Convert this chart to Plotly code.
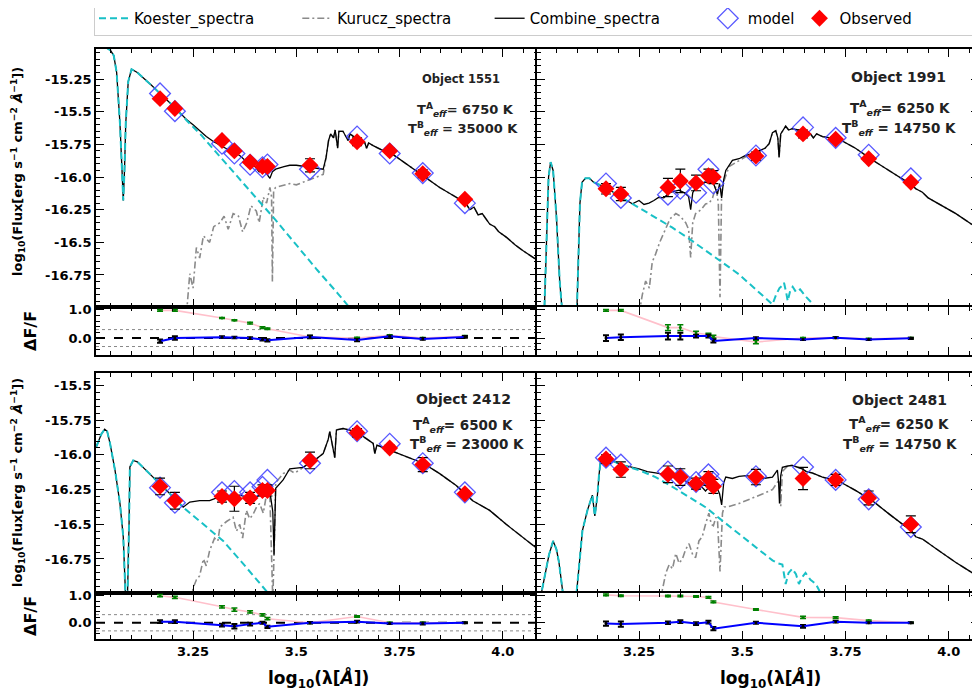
import plotly.graph_objects as go

FONT = "DejaVu Sans"
OFF = 8  # the page body margin shifts the figure by this many pixels
W, H = 980 - OFF, 692 - OFF

# ---------------- data ----------------
filter_x = [3.17, 3.206, 3.32, 3.35, 3.388, 3.418, 3.43, 3.533, 3.647, 3.726, 3.806, 3.908]

x_tick_vals = [3.0, 3.25, 3.5, 3.75, 4.0]
x_tick_text = ["3.0", "3.25", "3.5", "3.75", "4.0"]
y_top_vals = [-16.75, -16.5, -16.25, -16.0, -15.75, -15.5, -15.25]
y_top_text = ["-16.75", "-16.5", "-16.25", "-16.0", "-15.75", "-15.5", "-15.25"]
y_bot_vals = [-16.75, -16.5, -16.25, -16.0, -15.75, -15.5]
y_bot_text = ["-16.75", "-16.5", "-16.25", "-16.0", "-15.75", "-15.5"]
r_tick_vals = [0.0, 1.0]
r_tick_text = ["0.0", "1.0"]

# Object 1551
obs_1551 = [-15.40, -15.475, -15.72, -15.80, -15.886, -15.92, -15.92, -15.91, -15.73, -15.80, -15.975, -16.17]
err_1551 = [0.02, 0.02, 0.02, 0.02, 0.02, 0.02, 0.02, 0.05, 0.03, 0.02, 0.03, 0.02]
mod_1551 = [-15.36, -15.496, -15.745, -15.82, -15.906, -15.925, -15.904, -15.94, -15.69, -15.82, -15.97, -16.20]
kx_1551 = [3.015, 3.035, 3.05, 3.058, 3.065, 3.073, 3.078, 3.081, 3.084, 3.087, 3.093, 3.101, 3.115, 3.13, 3.15,
           3.17, 3.2, 3.234, 3.27, 3.3, 3.35, 3.4, 3.45, 3.5, 3.55, 3.6, 3.65]
ky_1551 = [-14.95, -15.0, -15.03, -15.07, -15.2, -15.59, -15.95, -16.18, -15.95, -15.59, -15.27, -15.175, -15.2,
           -15.24, -15.30, -15.36, -15.45, -15.565, -15.68, -15.79, -15.97, -16.15, -16.33, -16.52, -16.71, -16.89, -17.08]
ccut_1551 = 3.2
cx_1551 = [3.234, 3.25, 3.282, 3.3, 3.323, 3.34, 3.363, 3.375, 3.387, 3.40, 3.41, 3.42, 3.43, 3.436, 3.442, 3.45,
           3.47, 3.484, 3.5, 3.524, 3.545, 3.565, 3.572, 3.578, 3.583, 3.59, 3.594, 3.6, 3.603, 3.613, 3.625, 3.63,
           3.645, 3.665, 3.67, 3.675, 3.686, 3.705, 3.726, 3.766, 3.807, 3.847, 3.887, 3.91, 3.92, 3.93, 3.94, 3.95,
           3.968, 3.98, 3.99, 4.008, 4.03, 4.049, 4.085]
cy_1551 = [-15.56, -15.60, -15.69, -15.73, -15.77, -15.80, -15.835, -15.87, -15.90, -15.92, -15.96, -15.94, -15.99,
           -16.01, -15.96, -15.94, -15.92, -15.91, -15.91, -15.92, -15.93, -15.94, -15.85, -15.72, -15.67, -15.70,
           -15.64, -15.78, -15.65, -15.65, -15.72, -15.67, -15.706, -15.73, -15.78, -15.74, -15.76, -15.79, -15.81,
           -15.90, -15.99, -16.08, -16.155, -16.2, -16.25, -16.23, -16.29, -16.28, -16.36, -16.38, -16.42, -16.46,
           -16.52, -16.565, -16.64]
ux_1551 = [3.234, 3.242, 3.25, 3.258, 3.266, 3.275, 3.29, 3.3, 3.315, 3.325, 3.335, 3.347, 3.36, 3.37, 3.38, 3.39,
           3.403, 3.41, 3.42, 3.428, 3.436, 3.44, 3.442, 3.445, 3.45, 3.47, 3.484, 3.5, 3.524, 3.545, 3.565]
uy_1551 = [-17.05, -16.74, -16.85, -16.54, -16.62, -16.45, -16.5, -16.38, -16.35, -16.30, -16.40, -16.28, -16.30,
           -16.42, -16.35, -16.22, -16.26, -16.35, -16.155, -16.20, -16.08, -16.15, -16.80, -16.10, -16.08, -16.06,
           -16.05, -16.06, -16.03, -16.0, -15.98]
green_1551 = [0.98, 0.98, 0.71, 0.63, 0.53, 0.37, 0.33, 0.04, 0.0, 0.1, 0.0, 0.06]
gerr_1551 = [0.03, 0.03, 0.02, 0.02, 0.03, 0.03, 0.03, 0.05, 0.03, 0.02, 0.02, 0.03]
blue_1551 = [-0.11, 0.0, 0.03, 0.02, 0.0, -0.05, -0.08, 0.04, -0.07, 0.06, -0.03, 0.04]
berr_1551 = [0.06, 0.06, 0.03, 0.03, 0.03, 0.04, 0.04, 0.05, 0.04, 0.02, 0.03, 0.03]

# Object 1991
obs_1991 = [-16.09, -16.13, -16.08, -16.03, -16.045, -15.99, -16.0, -15.84, -15.67, -15.71, -15.86, -16.04]
err_1991 = [0.04, 0.05, 0.07, 0.09, 0.06, 0.05, 0.05, 0.03, 0.03, 0.02, 0.02, 0.02]
mod_1991 = [-16.05, -16.16, -16.135, -16.09, -16.12, -15.94, -16.05, -15.835, -15.62, -15.70, -15.83, -16.01]
kx_1991 = [3.0, 3.02, 3.026, 3.031, 3.036, 3.042, 3.05, 3.058, 3.066, 3.072, 3.098, 3.103, 3.107, 3.112, 3.12,
           3.13, 3.14, 3.17, 3.206, 3.234, 3.28, 3.33, 3.37, 3.411, 3.45, 3.492, 3.53, 3.573, 3.582, 3.59, 3.597,
           3.601, 3.606, 3.61, 3.616, 3.622, 3.63, 3.64, 3.655, 3.67, 3.685]
ky_1991 = [-17.1, -17.1, -16.5, -16.0, -15.886, -15.95, -16.3, -16.8, -17.1, -17.2, -17.2, -16.6, -16.2, -16.04,
           -16.01, -16.01, -16.04, -16.08, -16.155, -16.205, -16.29, -16.386, -16.47, -16.565, -16.65, -16.745,
           -16.85, -16.975, -16.9, -16.85, -16.83, -16.81, -16.88, -16.95, -16.87, -16.84, -16.88, -16.86, -16.92,
           -16.97, -17.05]
ccut_1991 = 3.234
cx_1991 = [3.25, 3.262, 3.274, 3.286, 3.298, 3.31, 3.323, 3.335, 3.347, 3.36, 3.37, 3.375, 3.38, 3.387, 3.4, 3.411,
           3.42, 3.428, 3.435, 3.44, 3.445, 3.45, 3.455, 3.46, 3.476, 3.492, 3.508, 3.525, 3.54, 3.555, 3.565, 3.573,
           3.581, 3.586, 3.589, 3.593, 3.605, 3.612, 3.621, 3.635, 3.653, 3.665, 3.672, 3.68, 3.694, 3.734, 3.774,
           3.815, 3.855, 3.896, 3.91, 3.92, 3.936, 3.95, 3.976, 4.017, 4.073]
cy_1991 = [-16.18, -16.21, -16.2, -16.18, -16.155, -16.16, -16.12, -16.11, -16.1, -16.12, -16.15, -16.25, -16.12,
           -16.08, -16.06, -16.04, -16.05, -16.03, -16.09, -16.13, -16.05, -16.16, -16.02, -15.95, -15.873, -15.86,
           -15.835, -15.82, -15.80, -15.78, -15.745, -15.66, -15.645, -15.70, -15.85, -15.67, -15.61, -15.64, -15.63,
           -15.64, -15.64, -15.67, -15.70, -15.67, -15.69, -15.71, -15.78, -15.87, -15.95, -16.027, -16.06, -16.09,
           -16.117, -16.16, -16.206, -16.28, -16.40]
ux_1991 = [3.25, 3.258, 3.266, 3.275, 3.282, 3.29, 3.3, 3.315, 3.325, 3.339, 3.35, 3.363, 3.37, 3.375, 3.38, 3.387,
           3.4, 3.411, 3.42, 3.428, 3.436, 3.442, 3.446, 3.45, 3.456, 3.468, 3.492, 3.516, 3.54]
uy_1991 = [-17.05, -16.9, -16.796, -16.85, -16.65, -16.59, -16.5, -16.386, -16.32, -16.28, -16.3, -16.35, -16.4,
           -16.616, -16.35, -16.28, -16.25, -16.206, -16.2, -16.16, -16.07, -16.2, -16.92, -16.1, -16.027, -15.92,
           -15.873, -15.83, -15.80]
green_1991 = [0.98, 0.98, 0.37, 0.37, 0.18, 0.12, 0.05, -0.14, 0.0, 0.02, -0.03, 0.0]
gerr_1991 = [0.03, 0.03, 0.1, 0.1, 0.06, 0.05, 0.05, 0.06, 0.02, 0.02, 0.02, 0.02]
blue_1991 = [0.0, 0.03, 0.07, 0.07, 0.07, 0.07, -0.1, 0.0, -0.05, 0.01, -0.05, -0.01]
berr_1991 = [0.1, 0.1, 0.12, 0.12, 0.05, 0.05, 0.06, 0.03, 0.02, 0.02, 0.02, 0.02]

# Object 2412
obs_2412 = [-16.227, -16.33, -16.30, -16.316, -16.31, -16.256, -16.256, -16.04, -15.84, -15.95, -16.07, -16.28]
err_2412 = [0.06, 0.06, 0.04, 0.09, 0.04, 0.04, 0.04, 0.06, 0.03, 0.02, 0.05, 0.02]
mod_2412 = [-16.236, -16.345, -16.27, -16.26, -16.27, -16.23, -16.18, -16.06, -15.83, -15.92, -16.06, -16.27]
kx_2412 = [3.016, 3.028, 3.036, 3.042, 3.049, 3.061, 3.073, 3.081, 3.087, 3.091, 3.095, 3.097, 3.105, 3.115,
           3.129, 3.161, 3.194, 3.226, 3.27, 3.323, 3.37, 3.419, 3.45]
ky_2412 = [-15.94, -15.85, -15.815, -15.83, -15.917, -16.11, -16.35, -16.59, -17.05, -17.05, -16.5, -16.087,
           -16.04, -16.05, -16.09, -16.18, -16.28, -16.377, -16.49, -16.62, -16.78, -16.956, -17.06]
ccut_2412 = 3.226
cx_2412 = [3.242, 3.266, 3.29, 3.315, 3.339, 3.363, 3.387, 3.403, 3.42, 3.436, 3.443, 3.446, 3.45, 3.468, 3.484,
           3.516, 3.532, 3.548, 3.565, 3.577, 3.581, 3.593, 3.597, 3.613, 3.645, 3.686, 3.69, 3.695, 3.726, 3.766,
           3.807, 3.847, 3.887, 3.927, 3.968, 4.008, 4.048, 4.085]
cy_2412 = [-16.34, -16.33, -16.33, -16.30, -16.30, -16.29, -16.31, -16.30, -16.28, -16.265, -16.41, -16.72, -16.24,
           -16.18, -16.10, -16.09, -16.06, -16.03, -15.99, -15.89, -15.833, -16.02, -15.82, -15.81, -15.833, -15.917,
           -15.99, -15.93, -15.966, -16.01, -16.06, -16.135, -16.22, -16.33, -16.40, -16.50, -16.594, -16.68]
ux_2412 = [3.245, 3.25, 3.258, 3.266, 3.275, 3.282, 3.29, 3.302, 3.31, 3.315, 3.331, 3.347, 3.355, 3.363, 3.37,
           3.379, 3.387, 3.395, 3.403, 3.411, 3.42, 3.428, 3.436, 3.44, 3.443, 3.447, 3.45, 3.468, 3.484, 3.495,
           3.508, 3.516]
uy_2412 = [-17.05, -16.96, -16.9, -16.87, -16.75, -16.8, -16.69, -16.6, -16.62, -16.52, -16.48, -16.45, -16.55,
           -16.5, -16.6, -16.4, -16.46, -16.43, -16.38, -16.35, -16.42, -16.28, -16.3, -16.7, -17.05, -16.6, -16.2,
           -16.135, -16.11, -16.13, -16.11, -16.09]
green_2412 = [1.0, 0.94, 0.59, 0.49, 0.40, 0.29, 0.15, 0.0, 0.23, 0.0, 0.0, 0.0]
gerr_2412 = [0.04, 0.04, 0.04, 0.06, 0.04, 0.04, 0.04, 0.03, 0.03, 0.02, 0.02, 0.02]
blue_2412 = [0.04, 0.04, -0.09, -0.13, -0.05, 0.0, -0.15, 0.0, 0.04, -0.03, -0.03, 0.0]
berr_2412 = [0.05, 0.05, 0.05, 0.08, 0.05, 0.04, 0.04, 0.03, 0.03, 0.02, 0.03, 0.02]

# Object 2481
obs_2481 = [-16.03, -16.106, -16.14, -16.16, -16.207, -16.17, -16.227, -16.16, -16.17, -16.18, -16.31, -16.50]
err_2481 = [0.03, 0.055, 0.06, 0.06, 0.04, 0.05, 0.05, 0.055, 0.08, 0.04, 0.05, 0.06]
mod_2481 = [-16.02, -16.07, -16.12, -16.17, -16.195, -16.14, -16.2, -16.154, -16.087, -16.18, -16.32, -16.52]
kx_2481 = [3.01, 3.024, 3.032, 3.042, 3.05, 3.056, 3.062, 3.068, 3.097, 3.105, 3.113, 3.125, 3.137, 3.143, 3.149,
           3.153, 3.157, 3.169, 3.206, 3.25, 3.29, 3.331, 3.37, 3.411, 3.45, 3.492, 3.53, 3.573, 3.585, 3.597, 3.601,
           3.605, 3.612, 3.621, 3.63, 3.637, 3.645, 3.653, 3.665, 3.678, 3.694]
ky_2481 = [-17.05, -16.83, -16.72, -16.62, -16.68, -16.77, -16.9, -17.05, -17.05, -16.8, -16.546, -16.40, -16.29,
           -16.44, -16.3, -16.15, -16.04, -16.02, -16.07, -16.11, -16.16, -16.23, -16.3, -16.377, -16.47, -16.57,
           -16.66, -16.76, -16.78, -16.79, -16.86, -16.93, -16.85, -16.82, -16.86, -16.93, -16.88, -16.85, -16.9,
           -16.93, -17.02]
ccut_2481 = 3.206
cx_2481 = [3.25, 3.27, 3.29, 3.31, 3.331, 3.35, 3.363, 3.38, 3.395, 3.405, 3.411, 3.42, 3.436, 3.445, 3.45, 3.455,
           3.46, 3.476, 3.492, 3.51, 3.532, 3.55, 3.573, 3.585, 3.588, 3.59, 3.593, 3.597, 3.61, 3.621, 3.635, 3.645,
           3.655, 3.669, 3.694, 3.734, 3.774, 3.815, 3.855, 3.896, 3.91, 3.92, 3.936, 3.976, 4.017, 4.073]
cy_2481 = [-16.10, -16.12, -16.13, -16.14, -16.16, -16.17, -16.19, -16.21, -16.22, -16.24, -16.26, -16.23, -16.22,
           -16.28, -16.36, -16.2, -16.16, -16.17, -16.155, -16.15, -16.16, -16.17, -16.16, -16.11, -16.2, -16.35,
           -16.15, -16.09, -16.08, -16.075, -16.09, -16.1, -16.12, -16.13, -16.16, -16.19, -16.256, -16.33, -16.425,
           -16.52, -16.55, -16.59, -16.606, -16.69, -16.775, -16.88]
ux_2481 = [3.3, 3.306, 3.315, 3.323, 3.331, 3.339, 3.347, 3.355, 3.363, 3.371, 3.38, 3.387, 3.395, 3.403, 3.411,
           3.419, 3.425, 3.43, 3.436, 3.44, 3.446, 3.452, 3.456, 3.47, 3.492, 3.51, 3.532, 3.55, 3.573, 3.585, 3.589,
           3.593, 3.597]
uy_2481 = [-17.05, -16.98, -16.85, -16.79, -16.82, -16.71, -16.78, -16.75, -16.68, -16.64, -16.72, -16.74, -16.62,
           -16.59, -16.5, -16.42, -16.5, -16.51, -16.45, -16.47, -16.84, -16.42, -16.375, -16.37, -16.35, -16.33,
           -16.30, -16.28, -16.25, -16.2, -16.18, -16.37, -16.12]
green_2481 = [1.03, 1.0, 0.99, 0.99, 0.97, 0.94, 0.77, 0.49, 0.2, 0.19, 0.08, 0.0]
gerr_2481 = [0.03, 0.03, 0.03, 0.03, 0.03, 0.03, 0.03, 0.03, 0.04, 0.03, 0.02, 0.02]
blue_2481 = [-0.03, -0.05, 0.0, 0.04, -0.03, 0.02, -0.22, 0.0, -0.13, 0.04, 0.0, 0.0]
berr_2481 = [0.08, 0.1, 0.05, 0.05, 0.05, 0.05, 0.06, 0.04, 0.05, 0.03, 0.02, 0.02]

labels = ["Object 1551", "Object 1991", "Object 2412", "Object 2481"]
teff_a = ["6750", "6250", "6500", "6250"]
teff_b = ["35000", "14750", "23000", "14750"]

legend_names = ["Koester_spectra", "Kurucz_spectra", "Combine_spectra", "model", "Observed"]
legend_pad = [8, 7, 9, 0, 13]   # non-breaking spaces to spread entries like the reference legend

# ---------------- layout geometry (page pixels) ----------------
col_px = [(96, 538), (537, 979)]
col_range = [(3.015, 4.085), (3.003, 4.073)]
row_main_px = [(49, 307), (373, 593)]
row_res_px = [(307, 355), (593, 639)]
row_range = [(-16.995, -15.02), (-16.995, -15.41)]
res_range = (-0.6, 1.1)


def fx(p):
    return (p - OFF) / W


def fy(p):
    return 1 - (p - OFF) / H


def lname(i):
    return legend_names[i] + "\u00a0" * legend_pad[i]


objects = [
    dict(obs=obs_1551, err=err_1551, mod=mod_1551, kx=kx_1551, ky=ky_1551, cut=ccut_1551, cx=cx_1551, cy=cy_1551,
         ux=ux_1551, uy=uy_1551, g=green_1551, ge=gerr_1551, b=blue_1551, be=berr_1551),
    dict(obs=obs_1991, err=err_1991, mod=mod_1991, kx=kx_1991, ky=ky_1991, cut=ccut_1991, cx=cx_1991, cy=cy_1991,
         ux=ux_1991, uy=uy_1991, g=green_1991, ge=gerr_1991, b=blue_1991, be=berr_1991),
    dict(obs=obs_2412, err=err_2412, mod=mod_2412, kx=kx_2412, ky=ky_2412, cut=ccut_2412, cx=cx_2412, cy=cy_2412,
         ux=ux_2412, uy=uy_2412, g=green_2412, ge=gerr_2412, b=blue_2412, be=berr_2412),
    dict(obs=obs_2481, err=err_2481, mod=mod_2481, kx=kx_2481, ky=ky_2481, cut=ccut_2481, cx=cx_2481, cy=cy_2481,
         ux=ux_2481, uy=uy_2481, g=green_2481, ge=gerr_2481, b=blue_2481, be=berr_2481),
]

KOESTER_C = "#19c0c6"
fig = go.Figure()
layout = {}
shapes = []
annotations = []

tick_font = dict(family=FONT, size=13, color="black", weight="bold")

for p, o in enumerate(objects):
    row, col = divmod(p, 2)
    nm, nr = 2 * p + 1, 2 * p + 2
    xm, ym = ("x" if nm == 1 else f"x{nm}"), ("y" if nm == 1 else f"y{nm}")
    xr, yr = f"x{nr}", f"y{nr}"
    leg = p == 0

    comb_x = [v for v in o["kx"] if v <= o["cut"]] + o["cx"]
    comb_y = [o["ky"][i] for i, v in enumerate(o["kx"]) if v <= o["cut"]] + o["cy"]
    kur_x = o["ux"] + [v for v in o["cx"] if v > o["ux"][-1]]
    kur_y = o["uy"] + [o["cy"][i] for i, v in enumerate(o["cx"]) if v > o["ux"][-1]]

    fig.add_trace(go.Scatter(x=kur_x, y=kur_y, mode="lines", name=lname(1), legendrank=2,
                             line=dict(color="#8a8a8a", width=1.6, dash="7px,3px,2px,3px"),
                             showlegend=leg, legendgroup="ku", xaxis=xm, yaxis=ym))
    fig.add_trace(go.Scatter(x=comb_x, y=comb_y, mode="lines", name=lname(2), legendrank=3,
                             line=dict(color="black", width=1.3),
                             showlegend=leg, legendgroup="co", xaxis=xm, yaxis=ym))
    fig.add_trace(go.Scatter(x=o["kx"], y=o["ky"], mode="lines", name=lname(0), legendrank=1,
                             line=dict(color=KOESTER_C, width=2, dash="7px,4px"),
                             showlegend=leg, legendgroup="ko", xaxis=xm, yaxis=ym))
    fig.add_trace(go.Scatter(x=filter_x, y=o["mod"], mode="markers", name=lname(3), legendrank=4,
                             marker=dict(symbol="diamond-open", size=16, color="rgba(70,70,255,0.9)",
                                         line=dict(width=1.3)),
                             showlegend=leg, legendgroup="mo", xaxis=xm, yaxis=ym))
    fig.add_trace(go.Scatter(x=filter_x, y=o["obs"], mode="markers", name=lname(4), legendrank=5,
                             marker=dict(symbol="diamond", size=13, color="red"),
                             error_y=dict(type="data", array=o["err"], color="black", thickness=1.2, width=5),
                             showlegend=leg, legendgroup="ob", xaxis=xm, yaxis=ym))

    fig.add_trace(go.Scatter(x=filter_x, y=o["g"], mode="lines", line=dict(color="pink", width=1.6),
                             showlegend=False, xaxis=xr, yaxis=yr))
    fig.add_trace(go.Scatter(x=filter_x, y=o["g"], mode="markers", marker=dict(color="green", size=3),
                             error_y=dict(type="data", array=o["ge"], color="green", thickness=1.5, width=3),
                             showlegend=False, xaxis=xr, yaxis=yr))
    fig.add_trace(go.Scatter(x=filter_x, y=o["b"], mode="lines+markers", line=dict(color="blue", width=2),
                             marker=dict(color="black", size=3),
                             error_y=dict(type="data", array=o["be"], color="black", thickness=2, width=3),
                             showlegend=False, xaxis=xr, yaxis=yr))

    for yv, dash, colr, wd in [(0.3, "dot", "#888888", 1), (-0.3, "dot", "#888888", 1), (0.0, "dash", "black", 2)]:
        shapes.append(dict(type="line", xref=f"{xr} domain", yref=yr, x0=0, x1=1, y0=yv, y1=yv,
                           line=dict(color=colr, width=wd, dash=dash), layer="below"))

    c0, c1 = col_px[col]
    m0, m1 = row_main_px[row]
    r0, r1 = row_res_px[row]
    base = dict(showline=True, linewidth=1.6, linecolor="black", mirror="allticks", ticks="inside",
                ticklen=8, tickwidth=1.4, tickcolor="black", showgrid=False, zeroline=False,
                tickfont=tick_font, automargin=False)
    xminor = dict(ticks="inside", ticklen=4, tickwidth=1, tickcolor="black", tickmode="linear",
                  tick0=3.0, dtick=0.05, showgrid=False)
    layout["xaxis" if nm == 1 else f"xaxis{nm}"] = dict(
        base, domain=[fx(c0), min(1.0, fx(c1))], range=list(col_range[col]), anchor=ym,
        tickmode="array", tickvals=x_tick_vals, ticktext=x_tick_text, showticklabels=False, minor=xminor)
    layout[f"xaxis{nr}"] = dict(
        base, domain=[fx(c0), min(1.0, fx(c1))], range=list(col_range[col]), anchor=yr,
        tickmode="array", tickvals=x_tick_vals, ticktext=x_tick_text, showticklabels=(row == 1),
        minor=xminor, ticklabelstandoff=0)
    yv_, yt_ = (y_top_vals, y_top_text) if row == 0 else (y_bot_vals, y_bot_text)
    layout["yaxis" if nm == 1 else f"yaxis{nm}"] = dict(
        base, domain=[fy(m1), fy(m0)], range=list(row_range[row]), anchor=xm,
        tickmode="array", tickvals=yv_, ticktext=yt_, showticklabels=(col == 0),
        minor=dict(ticks="inside", ticklen=4, tickwidth=1, tickcolor="black", tickmode="linear",
                   tick0=-17.0, dtick=0.05, showgrid=False))
    layout[f"yaxis{nr}"] = dict(
        base, domain=[fy(r1), fy(r0)], range=list(res_range), anchor=xr,
        tickmode="array", tickvals=r_tick_vals, ticktext=r_tick_text, showticklabels=(col == 0),
        minor=dict(ticks="inside", ticklen=4, tickwidth=1, tickcolor="black", tickmode="linear",
                   tick0=0.0, dtick=0.2, showgrid=False))


def note(text, xp, yp, size, angle=0, color="#222"):
    annotations.append(dict(text=text, x=fx(xp), y=fy(yp), xref="paper", yref="paper", showarrow=False,
                            xanchor="center", yanchor="middle", textangle=angle,
                            font=dict(family=FONT, size=size, color=color)))


label_pos = [(461, 79), (898, 77), (463, 399), (899, 400)]
ta_pos = [(465, 110), (900, 108), (463, 425), (899, 424)]
tb_pos = [(463, 129), (899, 128), (467, 444), (900, 444)]
label_size = [11.5, 14, 14, 14]
teff_size = [13, 13.5, 13.5, 13.5]
for p in range(4):
    note(f"<b>{labels[p]}</b>", label_pos[p][0], label_pos[p][1], label_size[p])
    note(f"<b>T<sup>A</sup><sub><i>eff</i></sub>= {teff_a[p]} K</b>", ta_pos[p][0], ta_pos[p][1], teff_size[p])
    note(f"<b>T<sup>B</sup><sub><i>eff</i></sub> = {teff_b[p]} K</b>", tb_pos[p][0], tb_pos[p][1], teff_size[p])

ytitle = "<b>log<sub>10</sub>(Flux[erg s<sup>−1</sup> cm<sup>−2</sup> <i>Å</i><sup>−1</sup>])</b>"
for yc in [172, 483]:
    note(ytitle, 18, yc, 13, angle=-90, color="black")
for yc in [331, 616]:
    note("<b>ΔF/F</b>", 30, yc, 16, angle=-90, color="black")
for xc in [318, 770]:
    note("<b>log<sub>10</sub>(λ[<i>Å</i>])</b>", xc, 678, 17, color="black")

fig.update_layout(
    width=W, height=H, margin=dict(l=0, r=0, t=0, b=0, autoexpand=False),
    paper_bgcolor="white", plot_bgcolor="white",
    font=dict(family=FONT, color="black"),
    shapes=shapes, annotations=annotations,
    legend=dict(orientation="h", x=fx(94), y=fy(1), xanchor="left", yanchor="top",
                bordercolor="#cccccc", borderwidth=1, bgcolor="white",
                font=dict(family=FONT, size=15, color="black"), itemwidth=30),
    **layout,
)

fig.write_html("out.html")
